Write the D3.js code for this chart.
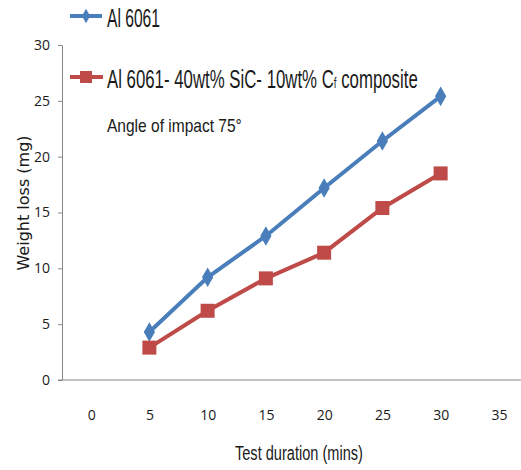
<!DOCTYPE html>
<html>
<head>
<meta charset="utf-8">
<script src="https://cdn.jsdelivr.net/npm/d3@7"></script>
<style>
  body { margin: 0; background: #fff; }
  text { fill: #1a1a1a; }
</style>
</head>
<body>
<div id="chart"></div>
<script>
// Data
var categories = [0, 5, 10, 15, 20, 25, 30, 35];
var durations = [5, 10, 15, 20, 25, 30];
var al6061 = [4.3, 9.2, 12.9, 17.2, 21.4, 25.4];
var composite = [2.9, 6.2, 9.1, 11.4, 15.4, 18.5];
var yTicks = [0, 5, 10, 15, 20, 25, 30];

var width = 521, height = 470;

var svg = d3.select("#chart")
    .append("svg")
    .attr("width", width)
    .attr("height", height);

// squeeze a text horizontally so it reads like a narrow font
function narrow(sel, x0, w) {
    var len = sel.node().getComputedTextLength();
    var k = w / len;
    sel.attr("transform", "translate(" + x0 + ",0) scale(" + k + ",1) translate(" + (-x0) + ",0)");
}

// Scales
var x = d3.scalePoint()
    .domain(categories)
    .range([62, 528])
    .padding(0.5);

var y = d3.scaleLinear()
    .domain([0, 30])
    .range([380, 45]);

// Y axis
var yAxis = svg.append("g")
    .attr("transform", "translate(62,0)")
    .call(d3.axisLeft(y).tickValues(yTicks).tickSize(4).tickPadding(8));
yAxis.select(".domain").attr("stroke", "#888");
yAxis.selectAll(".tick line").attr("stroke", "#888");
yAxis.selectAll("text")
    .style("font-family", "'Open Sans', sans-serif")
    .style("font-size", "14px")
    .attr("fill", "#222");

// X axis
var xAxis = svg.append("g")
    .attr("transform", "translate(0,380)")
    .call(d3.axisBottom(x).tickSize(0).tickPadding(30));
xAxis.select(".domain").attr("stroke", "#888").attr("d", "M58,0H521");
xAxis.selectAll("text")
    .style("font-family", "'Open Sans', sans-serif")
    .style("font-size", "14px")
    .attr("fill", "#222");

// Axis titles
svg.append("text")
    .attr("transform", "translate(29,203) rotate(-90)")
    .attr("text-anchor", "middle")
    .style("font-family", "'DejaVu Sans', sans-serif")
    .style("font-size", "16px")
    .attr("fill", "#333")
    .text("Weight loss (mg)");

var xTitle = svg.append("text")
    .attr("x", 235)
    .attr("y", 460)
    .style("font-family", "'Liberation Sans', sans-serif")
    .style("font-size", "21px")
    .text("Test duration (mins)");
narrow(xTitle, 235, 128);

// Lines
var line = d3.line()
    .x(function(d) { return x(d[0]); })
    .y(function(d) { return y(d[1]); });

var blue = "#4a7ebb", red = "#be4b48";

svg.append("path")
    .datum(d3.zip(durations, al6061))
    .attr("d", line)
    .attr("fill", "none")
    .attr("stroke", blue)
    .attr("stroke-width", 4);

svg.append("path")
    .datum(d3.zip(durations, composite))
    .attr("d", line)
    .attr("fill", "none")
    .attr("stroke", red)
    .attr("stroke-width", 4);

// Markers
var diamond = d3.symbol().type(d3.symbolDiamond).size(110);
svg.selectAll(".m1")
    .data(d3.zip(durations, al6061))
    .enter()
    .append("path")
    .attr("class", "m1")
    .attr("d", diamond)
    .attr("transform", function(d) { return "translate(" + x(d[0]) + "," + y(d[1]) + ")"; })
    .attr("fill", blue);

svg.selectAll(".m2")
    .data(d3.zip(durations, composite))
    .enter()
    .append("rect")
    .attr("class", "m2")
    .attr("x", function(d) { return x(d[0]) - 7; })
    .attr("y", function(d) { return y(d[1]) - 7; })
    .attr("width", 14)
    .attr("height", 14)
    .attr("fill", red);

// Legend
svg.append("line")
    .attr("x1", 70).attr("x2", 102).attr("y1", 16).attr("y2", 16)
    .attr("stroke", blue).attr("stroke-width", 4);
svg.append("path")
    .attr("d", d3.symbol().type(d3.symbolDiamond).size(60))
    .attr("transform", "translate(86,16)")
    .attr("fill", blue);
var leg1 = svg.append("text")
    .attr("x", 107).attr("y", 27)
    .style("font-family", "'Liberation Sans', sans-serif")
    .style("font-size", "26px")
    .text("Al 6061");
narrow(leg1, 107, 53);

svg.append("line")
    .attr("x1", 70).attr("x2", 103).attr("y1", 77).attr("y2", 77)
    .attr("stroke", red).attr("stroke-width", 4);
svg.append("rect")
    .attr("x", 80).attr("y", 71).attr("width", 12).attr("height", 12)
    .attr("fill", red);
var leg2 = svg.append("text")
    .attr("x", 107).attr("y", 88)
    .style("font-family", "'Liberation Sans', sans-serif")
    .style("font-size", "26px");
leg2.append("tspan").text("Al 6061- 40wt% SiC- 10wt% C");
leg2.append("tspan").style("font-size", "15px").text("f");
leg2.append("tspan").text(" composite");
narrow(leg2, 107, 311);

var angle = svg.append("text")
    .attr("x", 107).attr("y", 132)
    .style("font-family", "'Liberation Sans', sans-serif")
    .style("font-size", "18px")
    .text("Angle of impact 75°");
narrow(angle, 107, 135);
</script>
</body>
</html>
